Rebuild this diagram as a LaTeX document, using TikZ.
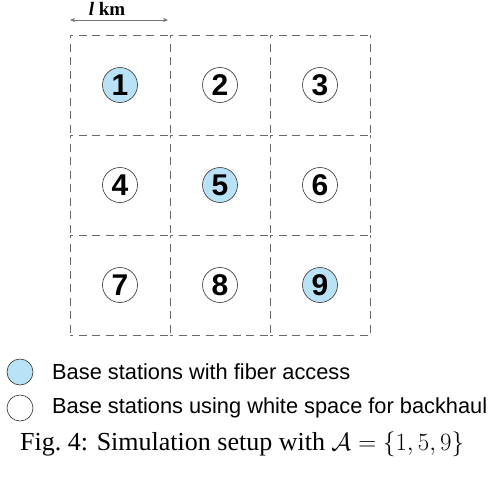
\documentclass[tikz,border=0pt]{standalone}
\usepackage{fontspec}
\setmainfont{Liberation Serif}
\newfontfamily\arialfont{Liberation Sans}
\usetikzlibrary{arrows.meta}
\definecolor{fiber}{RGB}{186,226,246}
\definecolor{gridgray}{RGB}{105,105,105}
\tikzset{
  cellline/.style={draw=gridgray, dash pattern=on 8pt off 5.5pt, dash phase=5pt, line width=0.7pt},
  bs/.style={circle, draw=black!80, line width=0.6pt, minimum size=35pt, inner sep=0pt, font=\arialfont\bfseries\fontsize{30}{30}\selectfont},
  fib/.style={bs, fill=fiber},
  wsp/.style={bs, fill=white},
  legcirc/.style={circle, draw=black!80, line width=0.6pt, minimum size=26pt, inner sep=0pt},
  legtext/.style={anchor=west, inner sep=0pt, font=\arialfont\fontsize{21.8}{24}\selectfont},
  scalearrow/.style={draw=black!55, line width=0.9pt, {Stealth[length=5pt,width=4pt,fill=black]}-{Stealth[length=5pt,width=4pt,fill=black]}},
}
\begin{document}
\begin{tikzpicture}[x=1pt,y=-1pt]
\useasboundingbox (0,0) rectangle (490,483);
% grid lines, each cell edge drawn once from a grid corner
\foreach \i in {0,1,2}{
  \foreach \j in {0,1,2,3}{
    \draw[cellline] (70+100*\i,35+100*\j) -- (170+100*\i,35+100*\j);
    \draw[cellline] (70+100*\j,35+100*\i) -- (70+100*\j,135+100*\i);
  }
}
% base stations
\node[fib] (n1) at (120,85) {1};
\node[wsp] (n2) at (220,85) {2};
\node[wsp] (n3) at (320,85) {3};
\node[wsp] (n4) at (120,185) {4};
\node[fib] (n5) at (220,185) {5};
\node[wsp] (n6) at (320,185) {6};
\node[wsp] (n7) at (120,285) {7};
\node[wsp] (n8) at (220,285) {8};
\node[fib] (n9) at (320,285) {9};
% scale arrow
\coordinate (aL) at (70,20);
\coordinate (aR) at (168,20);
\draw[scalearrow] (aL) -- (aR);
\node[font=\bfseries\fontsize{19}{19}\selectfont, inner sep=0pt] (lkm) at (107,9) {\textit{l} km};
% legend
\node[legcirc, fill=fiber] (lg1) at (20,372) {};
\node[legtext] (lt1) at (52,372) {Base stations with fiber access};
\node[legcirc, fill=white] (lg2) at (20,408) {};
\node[legtext] (lt2) at (52,408) {Base stations using white space for backhaul};
% caption
\node[anchor=west, inner sep=0pt, font=\fontsize{26}{30}\selectfont] (cap) at (20,444) {Fig.~4: Simulation setup with $\mathcal{A}=\{1,5,9\}$};
\end{tikzpicture}
\end{document}
